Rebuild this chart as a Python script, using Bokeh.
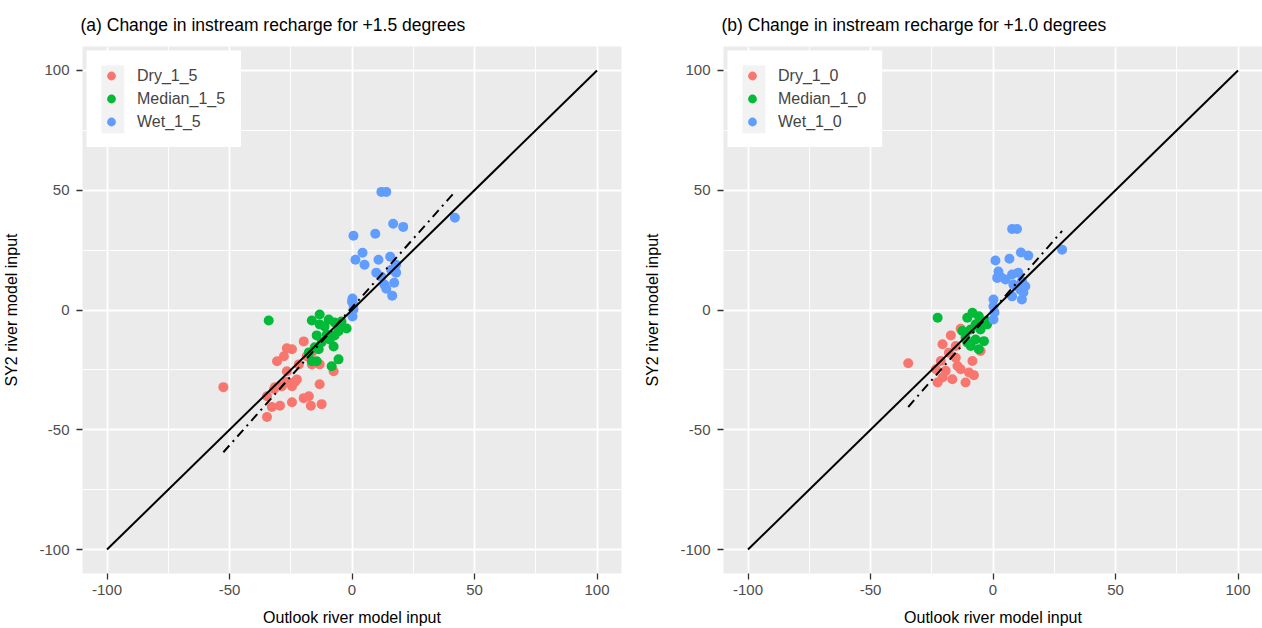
import numpy as np
from bokeh.plotting import figure
from bokeh.layouts import row
from bokeh.models import FixedTicker, Legend, LegendItem, BoxAnnotation
from bokeh.embed import file_html
from bokeh.resources import INLINE

# ---------------- data ----------------
dry_1_5_x = [-52.5, -34.7, -32.7, -29.4, -24.5, -19.7, -17.6, -16.8, -12.4, -13.2, -34.7, -31.8,
             -28.6, -24.5, -22.5, -26.6, -21.7, -30.6, -27.8, -26.6, -19.7, -16.4, -13.2, -7.5,
             -26.6, -23.3, -31.4, -18.5, -16.4, -24.5]
dry_1_5_y = [-32.2, -44.7, -40.5, -40.0, -38.5, -36.8, -36.0, -40.0, -39.3, -31.0, -36.0, -33.0,
             -31.8, -31.8, -29.0, -25.6, -22.7, -21.4, -19.3, -16.0, -13.1, -22.7, -22.7, -25.6,
             -30.0, -30.0, -32.2, -19.3, -17.7, -16.4]
med_1_5_x = [-34.0, -13.2, -16.4, -9.5, -7.1, -4.3, -2.2, -14.4, -10.3, -7.1, -12.4, -7.5,
             -15.2, -17.6, -16.4, -14.4, -5.5, -8.3, -11.2, -5.5, -13.2, -9.1, -13.6, -4.3]
med_1_5_y = [-4.4, -1.9, -4.4, -4.0, -5.2, -6.9, -7.7, -10.6, -10.2, -10.6, -13.5, -15.2,
             -15.6, -17.7, -21.4, -21.4, -20.6, -23.5, -6.9, -8.9, -6.0, -12.3, -16.4, -4.8]
wet_1_5_x = [12.0, 14.0, 42.0, 16.8, 20.9, 0.6, 9.5, 4.3, 1.4, 5.1, 10.8, 15.6, 18.0, 16.0,
             9.9, 12.0, 18.0, 17.2, 13.2, 14.0, 16.4, 0.2, 0.6, 0.6, 0.2, 0.0]
wet_1_5_y = [49.3, 49.3, 38.5, 36.0, 34.7, 31.0, 31.8, 23.9, 21.0, 18.9, 21.0, 22.2, 18.9, 16.8,
             15.6, 13.9, 15.6, 11.4, 10.6, 8.9, 6.0, 4.8, 2.3, 0.2, -2.7, 3.5]

dry_1_0_x = [-34.6, -13.2, -17.2, -20.6, -15.2, -18.0, -15.2, -21.3, -8.4, -23.3, -13.2, -9.8,
             -20.6, -7.8, -22.6, -16.6, -11.2, -5.1, -19.3, -14.5]
dry_1_0_y = [-22.2, -7.8, -10.6, -14.3, -15.0, -17.8, -19.9, -21.3, -21.3, -24.7, -24.7, -26.1,
             -28.2, -27.2, -30.3, -28.9, -30.3, -17.1, -25.4, -23.4]
med_1_0_x = [-22.6, -8.4, -10.5, -5.8, -3.0, -7.1, -9.1, -5.1, -11.2, -10.5, -7.1, -3.7,
             -9.1, -5.8, -2.4, -12.5]
med_1_0_y = [-3.2, -1.2, -3.2, -2.6, -4.7, -6.0, -8.1, -8.1, -11.6, -13.6, -12.3, -13.0,
             -15.0, -16.4, -6.0, -8.8]
wet_1_0_x = [7.8, 9.8, 28.2, 1.0, 6.7, 11.4, 14.4, 2.2, 1.7, 5.1, 7.8, 10.3, 11.8, 11.2, 9.8,
             8.3, 11.8, 12.4, 7.8, 0.2, 0.2, 0.6, 0.2, 3.0, 13.2]
wet_1_0_y = [33.8, 33.8, 25.2, 20.7, 21.4, 24.0, 22.7, 16.1, 13.4, 12.7, 14.8, 15.6, 12.0, 8.5,
             9.9, 10.6, 4.4, 7.3, 5.7, 4.4, 1.6, -1.0, -4.0, 14.0, 9.9]

# fitted dash-dot lines (slope, intercept)
fit_1_5 = (1.15, 1.0)
fit_1_0 = (1.17, 0.0)

# 1:1 reference line
ref_x = [-100, 100]

ticks = [-100, -50, 0, 50, 100]
tick_labels = ["-100", "-50", "0", "50", "100"]
minor = [-75, -25, 25, 75]

COLS = ["#F8766D", "#00BA38", "#619CFF"]
FONT = "Liberation Sans"

FRAME_H = 529
TOP = 46
BOTTOM = 53


def make_panel(title, series, names, fit, bl, fw, br):
    p = figure(width=bl + fw + br, height=TOP + FRAME_H + BOTTOM,
               x_range=(-110, 110), y_range=(-110, 110),
               output_backend="svg", toolbar_location=None,
               min_border_left=bl, min_border_right=br, min_border_top=TOP,
               min_border_bottom=BOTTOM)
    p.title.text = title
    p.title.text_font = FONT
    p.title.text_font_size = "17.5px"
    p.title.text_font_style = "normal"
    p.title.text_color = "black"
    p.title.align = "left"
    p.title.standoff = 23
    p.title.offset = -2
    p.background_fill_color = "#EBEBEB"
    p.border_fill_color = "white"
    p.outline_line_color = None

    for ax in (p.xaxis, p.yaxis):
        ax.ticker = FixedTicker(ticks=ticks, minor_ticks=minor)
        ax.major_label_overrides = dict(zip(ticks, tick_labels))
        ax.axis_line_color = None
        ax.major_tick_line_color = "#333333"
        ax.major_tick_line_width = 1.3
        ax.major_tick_in = 0
        ax.major_tick_out = 6
        ax.minor_tick_line_color = None
        ax.major_label_text_font = FONT
        ax.major_label_text_font_size = "15px"
        ax.major_label_text_color = "#4D4D4D"
        ax.axis_label_text_font = FONT
        ax.axis_label_text_font_size = "16px"
        ax.axis_label_text_font_style = "normal"
        ax.axis_label_text_color = "black"
    p.xaxis.axis_label = "Outlook river model input"
    p.yaxis.axis_label = "SY2 river model input"
    p.xaxis.major_label_standoff = 5
    p.yaxis.major_label_standoff = 7
    p.xaxis.axis_label_standoff = 11
    p.yaxis.axis_label_standoff = 16

    for g in (p.xgrid, p.ygrid):
        g.grid_line_color = "white"
        g.grid_line_width = 1.8
        g.minor_grid_line_color = "white"
        g.minor_grid_line_width = 0.9

    # legend box (white) and key background (grey95), placed in the top-left corner
    sx = fw / 220.0
    sy = FRAME_H / 220.0

    def dx(px):
        return -110 + px / sx

    def dy(px):
        return 110 - px / sy

    p.add_layout(BoxAnnotation(left=dx(4), right=dx(159), top=dy(4), bottom=dy(101),
                               fill_color="white", fill_alpha=1.0, line_color=None))
    p.add_layout(BoxAnnotation(left=dx(19), right=dx(42), top=dy(19), bottom=dy(87),
                               fill_color="#F2F2F2", fill_alpha=1.0, line_color=None))

    items = []
    for (xs, ys), name, c in zip(series, names, COLS):
        r = p.scatter(xs, ys, size=10, color=c, line_color=None)
        items.append(LegendItem(label=name, renderers=[r]))

    # 1:1 line
    p.line(ref_x, ref_x, line_color="black", line_width=2)
    # fitted line over data range
    allx = np.concatenate([np.asarray(s[0]) for s in series])
    fx = np.array([allx.min(), allx.max()])
    p.line(fx, fit[0] * fx + fit[1], line_color="black", line_width=2, line_dash="9 5 2 5")

    leg = Legend(items=items, location="top_left")
    leg.margin = 18
    leg.padding = 1
    leg.spacing = 0
    leg.label_height = 23
    leg.glyph_height = 23
    leg.glyph_width = 22
    leg.label_standoff = 15
    leg.label_text_font = FONT
    leg.label_text_font_size = "16px"
    leg.background_fill_alpha = 0.0
    leg.border_line_color = None
    p.add_layout(leg)
    return p


pa = make_panel("(a) Change in instream recharge for +1.5 degrees",
                [(dry_1_5_x, dry_1_5_y), (med_1_5_x, med_1_5_y), (wet_1_5_x, wet_1_5_y)],
                ["Dry_1_5", "Median_1_5", "Wet_1_5"], fit_1_5, 80, 541, 20)
pb = make_panel("(b) Change in instream recharge for +1.0 degrees",
                [(dry_1_0_x, dry_1_0_y), (med_1_0_x, med_1_0_y), (wet_1_0_x, wet_1_0_y)],
                ["Dry_1_0", "Median_1_0", "Wet_1_0"], fit_1_0, 81, 540, 0)

layout = row(pa, pb)
open("out.html", "w").write(file_html(layout, INLINE))
